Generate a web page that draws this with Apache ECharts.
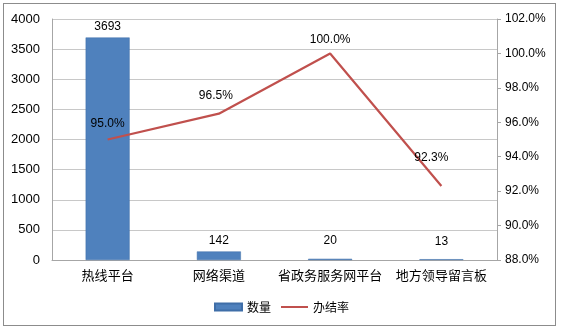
<!DOCTYPE html>
<html><head><meta charset="utf-8">
<script src="https://cdn.jsdelivr.net/npm/echarts@6/dist/echarts.min.js"></script>
<style>html,body{margin:0;padding:0;background:#fff}#c{width:563px;height:332px}
#frame{position:absolute;left:3px;top:3px;width:553px;height:323px;border:1px solid #8c8c8c;box-sizing:border-box;pointer-events:none}</style>
</head><body><div id="c"></div><div id="frame"></div>
<script>
const categories = ['热线平台','网络渠道','省政务服务网平台','地方领导留言板'];
const countValues = [3693, 142, 20, 13];
const rateValues = [95.0, 96.5, 100.0, 92.3];
const leftTicks = [0, 500, 1000, 1500, 2000, 2500, 3000, 3500, 4000];
const rightTicks = [88, 90, 92, 94, 96, 98, 100, 102];
// label placement (style only)
const rateLabelOffsets = [[0, -2], [-3, -4], [0, 0], [-10, -14]];
const countLabelOffsets = [[0, 0], [0, 0], [0, -7], [0, -7]];
const font = '"Liberation Sans","Noto Sans CJK SC",sans-serif';
const cjk = '"Noto Sans CJK SC",sans-serif';
const lineIcon = 'path://M0,0L0.01,0L0.01,0.01ZM0,2.3L30,2.3L30,4.7L0,4.7ZM0,7L0.01,7L0.01,7.01Z';
const chart = echarts.init(document.getElementById('c'));
chart.setOption({
  animation: false,
  textStyle: {fontFamily: font},
  grid: {left: 52, right: 66, top: 19, bottom: 72},
  legend: {
    bottom: 14, left: 'center', itemGap: 10, itemWidth: 27, itemHeight: 7,
    textStyle: {fontSize: 12, color: '#000', fontFamily: cjk},
    data: [{name: '数量', icon: 'rect'}, {name: '办结率', icon: lineIcon, itemStyle: {color: '#c0504d'}}]
  },
  xAxis: {
    type: 'category', data: categories,
    axisLine: {lineStyle: {color: '#a6a6a6'}}, axisTick: {show: false},
    axisLabel: {color: '#000', fontSize: 13, margin: 9, interval: 0, fontFamily: cjk}
  },
  yAxis: [{
    type: 'value', min: leftTicks[0], max: leftTicks[leftTicks.length-1], interval: 500,
    axisLine: {show: true, lineStyle: {color: '#a6a6a6'}}, axisTick: {show: false},
    splitLine: {lineStyle: {color: '#c8c8c8'}},
    axisLabel: {color: '#000', fontSize: 13, margin: 12, formatter: v => String(v)}
  }, {
    type: 'value', min: rightTicks[0], max: rightTicks[rightTicks.length-1], interval: 2,
    axisLine: {show: true, lineStyle: {color: '#a6a6a6'}},
    axisTick: {show: true, length: 4, lineStyle: {color: '#a6a6a6'}},
    splitLine: {show: false},
    axisLabel: {color: '#000', fontSize: 12, margin: 8, formatter: v => v.toFixed(1) + '%'}
  }],
  series: [{
    name: '数量', type: 'bar', barWidth: 44,
    data: countValues.map((v, i) => ({value: v, label: {offset: countLabelOffsets[i]}})),
    itemStyle: {color: '#4f81bd', borderColor: '#3f6ea8', borderWidth: 0.5},
    label: {show: true, position: 'top', color: '#000', fontSize: 12, distance: 5}
  }, {
    name: '办结率', type: 'line', yAxisIndex: 1, data: rateValues,
    symbol: 'none', lineStyle: {color: '#c0504d', width: 2.2}, itemStyle: {color: '#c0504d'}
  }, {
    name: '办结率标签', type: 'scatter', yAxisIndex: 1, z: 5,
    data: rateValues.map((v, i) => ({value: v, label: {offset: rateLabelOffsets[i]}})),
    symbolSize: 0, itemStyle: {color: '#c0504d', opacity: 1}, silent: true,
    label: {show: true, position: 'top', color: '#000', opacity: 1, fontSize: 12, distance: 8, formatter: p => p.value.toFixed(1) + '%'}
  }]
});
</script></body></html>
